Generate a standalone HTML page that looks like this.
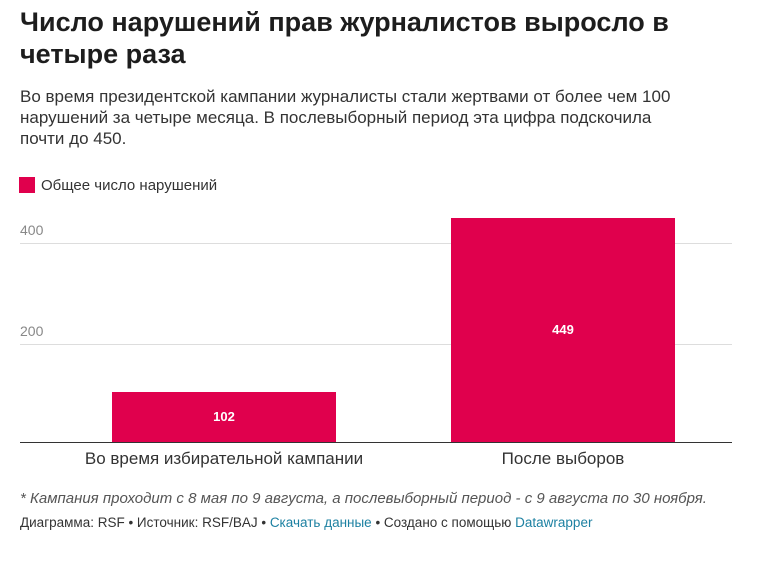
<!DOCTYPE html>
<html><head><meta charset="utf-8"><style>
body{margin:0;width:764px;height:575px;background:#fff;font-family:"Liberation Sans",sans-serif;position:relative;overflow:hidden}
.a{position:absolute;white-space:nowrap}
h1{position:absolute;left:20px;top:6px;margin:0;font-size:27px;line-height:32px;font-weight:bold;color:#1d1d1d;width:690px}
.sub{left:20px;top:86px;font-size:17px;line-height:21px;color:#333;white-space:normal;width:700px}
.grid{position:absolute;left:20px;width:712px;height:1px;background:#ddd}
.bar{position:absolute;background:#e0004d}
.num{position:absolute;width:100%;text-align:center;color:#fff;font-weight:bold;font-size:13px}
</style></head><body>
<h1>Число нарушений прав журналистов выросло в четыре раза</h1>
<div class="a sub">Во время президентской кампании журналисты стали жертвами от более чем 100 нарушений за четыре месяца. В послевыборный период эта цифра подскочила<br>почти до 450.</div>
<div class="a" style="left:19px;top:177px;width:16px;height:16px;background:#e0004d"></div>
<div class="a" style="left:41px;top:177px;font-size:15px;color:#333">Общее число нарушений</div>
<div class="a" style="left:20px;top:222px;font-size:14px;color:#888">400</div>
<div class="grid" style="top:243px"></div>
<div class="a" style="left:20px;top:323px;font-size:14px;color:#888">200</div>
<div class="grid" style="top:344px"></div>
<div class="bar" style="left:112px;top:392px;width:224px;height:51px"><div class="num" style="top:17px">102</div></div>
<div class="bar" style="left:451px;top:218px;width:224px;height:225px"><div class="num" style="top:104px">449</div></div>
<div class="grid" style="top:442px;background:#333"></div>
<div class="a" style="left:24px;width:400px;text-align:center;top:449px;font-size:17px;color:#333">Во время избирательной кампании</div>
<div class="a" style="left:363px;width:400px;text-align:center;top:449px;font-size:17px;color:#333">После выборов</div>
<div class="a" style="left:20px;top:490px;font-size:15px;font-style:italic;color:#555">* Кампания проходит с 8 мая по 9 августа, а послевыборный период - с 9 августа по 30 ноября.</div>
<div class="a" style="left:20px;top:515px;font-size:13.5px;color:#333">Диаграмма: RSF • Источник: RSF/BAJ • <span style="color:#1d81a2">Скачать данные</span> • Создано с помощью <span style="color:#1d81a2">Datawrapper</span></div>
</body></html>
